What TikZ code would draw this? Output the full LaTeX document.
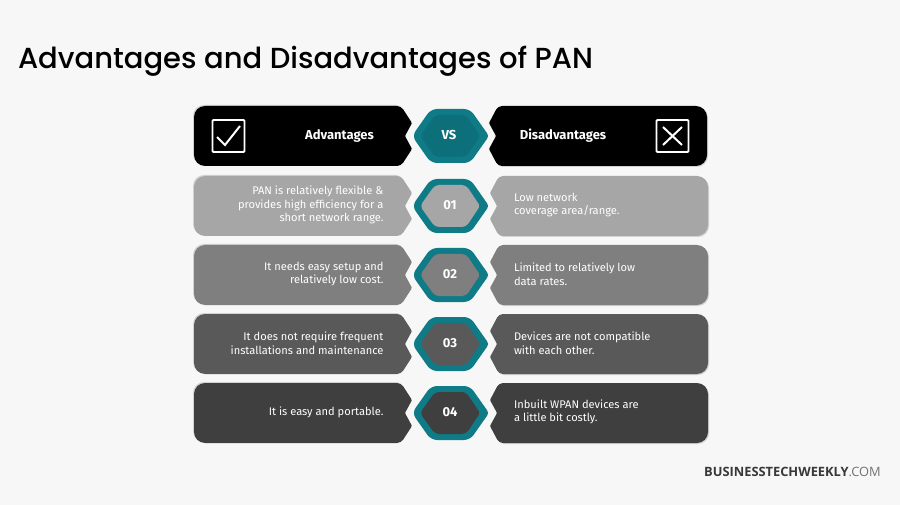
\documentclass[tikz,border=0pt]{standalone}
\usepackage{fontspec}
\usepackage{xcolor}
\setmainfont{Fira Sans}
\newfontfamily\titlefont{Poppins Medium}
\newfontfamily\brandfont{Open Sans}
\usetikzlibrary{positioning}
\definecolor{pagebg}{HTML}{F7F7F7}
\definecolor{hexteal}{HTML}{0F7B87}
\definecolor{hexinner}{HTML}{0C6F7A}
\definecolor{rowa}{HTML}{A6A6A6}
\definecolor{rowb}{HTML}{7F7F7F}
\definecolor{rowc}{HTML}{595959}
\definecolor{rowd}{HTML}{3F3F3F}
\tikzset{
	lefttext/.style={align=right,anchor=east,text=white,font=\fontsize{11.1}{13.6}\selectfont},
	righttext/.style={align=left,anchor=west,text=white,font=\fontsize{11.1}{13.6}\selectfont},
	headtext/.style={text=white,font=\fontsize{13}{15}\selectfont\bfseries},
	numtext/.style={text=white,font=\fontsize{13}{15}\selectfont\bfseries},
	iconbox/.style={draw=white,line width=1.8pt,rounded corners=1pt},
	iconmark/.style={draw=white,line width=2pt},
	panelshadow/.style={fill=black!55,opacity=0.28},
	pics/leftpanel/.style={code={
		\path[#1] [rounded corners=11pt] (194,0) [rounded corners=4pt] -- (401,0) [rounded corners=1pt] -- (412,17) -- (405,30) -- (412,43) [rounded corners=4pt] -- (401,60) [rounded corners=11pt] -- (194,60) -- cycle;
	}},
	pics/rightpanel/.style={code={
		\path[#1] [rounded corners=11pt] (707,0) [rounded corners=4pt] -- (498,0) [rounded corners=1pt] -- (489,17) -- (496,30) -- (489,43) [rounded corners=4pt] -- (498,60) [rounded corners=11pt] -- (707,60) -- cycle;
	}},
	pics/hexagon/.style={code={
		\path[#1] [rounded corners=3pt] (412,30) [rounded corners=6pt] -- (431,3) -- (470,3) [rounded corners=3pt] -- (489,30) [rounded corners=6pt] -- (470,57) -- (431,57) -- cycle;
	}},
	pics/hexcore/.style={code={
		\path[#1] [rounded corners=2pt] (420,30) [rounded corners=4pt] -- (435,9) -- (466,9) [rounded corners=2pt] -- (480,30) [rounded corners=4pt] -- (466,51) -- (435,51) -- cycle;
	}}
}
\begin{document}
\begin{tikzpicture}[x=1pt,y=-1pt]
	\useasboundingbox[fill=pagebg] (0,0) rectangle (900,505);
	\node[anchor=west,font=\fontsize{29}{32}\selectfont\titlefont] (title) at (14.5,61) {Advantages and Disadvantages of PAN};
	% header row
	\pic at (-1,105) {leftpanel={panelshadow}};
	\pic at (1,107) {rightpanel={panelshadow}};
	\pic at (0,106) {leftpanel={fill=black}};
	\pic at (0,106) {rightpanel={fill=black}};
	\pic at (0,106) {hexagon={fill=hexteal}};
	\pic at (0,106) {hexcore={fill=hexinner}};
	\node[headtext] (vs) at (449,135) {VS};
	\node[headtext] (adv) at (339.5,136) {Advantages};
	\node[headtext] (dis) at (563,136) {Disadvantages};
	\node[iconbox,minimum size=32pt,inner sep=0pt] (check) at (228.5,136) {};
	\node[iconbox,minimum size=32pt,inner sep=0pt] (cross) at (672.5,136) {};
	\draw[iconmark] (217,137) -- (225,145) -- (240,126);
	\draw[iconmark] (663,127) -- (682,145);
	\draw[iconmark] (682,127) -- (663,145);
	% four rows
	\foreach \t/\col/\num/\lefttxt/\righttxt in {
		176/rowa/01/{PAN is relatively flexible \&\\provides high efficiency for a\\short network range.}/{Low network\\coverage area/range.},
		245/rowb/02/{It needs easy setup and\\relatively low cost.}/{Limited to relatively low\\data rates.},
		314/rowc/03/{It does not require frequent\\installations and maintenance}/{Devices are not compatible\\with each other.},
		383/rowd/04/{It is easy and portable.}/{Inbuilt WPAN devices are\\a little bit costly.}}
	{
		\pic at (-1,\t-1) {leftpanel={panelshadow}};
		\pic at (2,\t+1) {rightpanel={panelshadow}};
		\pic at (0,\t) {leftpanel={fill=\col}};
		\pic at (1,\t) {rightpanel={fill=\col}};
		\pic at (0,\t) {hexagon={fill=hexteal}};
		\pic at (0,\t) {hexcore={fill=\col}};
		\node[numtext] (num\num) at (450,\t+29.5) {\num};
		\node[lefttext] (adv\num) at (387,\t+29) {\lefttxt};
		\node[righttext] (dis\num) at (510.5,\t+29) {\righttxt};
	}
	\node[anchor=east,inner sep=0pt,font=\fontsize{12.85}{14}\selectfont\brandfont,text=black!78] (brand) at (881,472) {\textbf{BUSINESSTECHWEEKLY}\textcolor{black!55}{.COM}};
\end{tikzpicture}
\end{document}
